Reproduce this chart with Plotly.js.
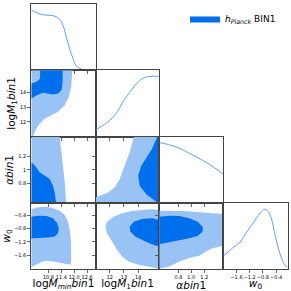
<!DOCTYPE html>
<html><head><meta charset="utf-8">
<script src="https://cdn.plot.ly/plotly-3.0.1.min.js"></script>
<style>html,body{margin:0;padding:0;background:#fff}#chart{width:291px;height:291px}</style>
</head><body><div id="chart"></div>
<script>
// ---- parameter names, ranges, ticks ----
const paramLabels = ["log<i>M</i><sub><i>min</i></sub><i>bin</i>1", "log<i>M</i><sub>1</sub><i>bin</i>1", "<i>αbin</i>1", "<i>w</i><sub>0</sub>"];
const paramRanges = [[10, 13], [11, 15.5], [0.5, 1.5], [-2.0, -0.05]];
const xTickVals = [[10.8, 11.4, 12.0, 12.6], [12, 13, 14], [0.8, 1.0, 1.2], [-1.6, -1.2, -0.8, -0.4]];
const xTickText = [["10.8", "11.4", "12.0", "12.6"], ["12", "13", "14"], ["0.8", "1.0", "1.2"], ["−1.6", "−1.2", "−0.8", "−0.4"]];
const yTickVals = [[], [12, 13, 14], [0.8, 1.0, 1.2], [-1.6, -1.2, -0.8, -0.4]];
const yTickText = [[], ["12", "13", "14"], ["0.8", "1", "1.2"], ["−1.6", "−1.2", "−0.8", "−0.4"]];
const legendName = "<i>h</i><sub><i>Planck</i></sub> BIN1";

// ---- 1D marginals ----
const logMminX = [10.0, 10.31, 10.62, 10.93, 11.16, 11.32, 11.47, 11.63, 11.78, 11.94, 12.09, 12.33, 12.64, 13.0];
const logMminP = [1.0, 0.946, 0.917, 0.912, 0.889, 0.846, 0.751, 0.557, 0.365, 0.199, 0.071, 0.022, 0.005, 0.0];
const logM1X = [11.0, 11.63, 12.34, 13.04, 13.74, 14.33, 14.8, 15.38, 15.5];
const logM1P = [0.112, 0.201, 0.352, 0.614, 0.837, 0.966, 0.998, 1.0, 1.0];
const alphaX = [0.5, 0.645, 0.8, 0.955, 1.11, 1.27, 1.5];
const alphaP = [1.0, 0.967, 0.912, 0.833, 0.745, 0.65, 0.483];
const w0X = [-2.0, -1.75, -1.49, -1.29, -1.04, -0.84, -0.74, -0.64, -0.53, -0.43, -0.33, -0.23, -0.13, -0.05];
const w0P = [0.214, 0.336, 0.449, 0.617, 0.814, 0.965, 1.0, 0.965, 0.814, 0.562, 0.336, 0.168, 0.057, 0.029];

// ---- 2D contours (95% light, 68% dark) ----
// logM1 vs logMmin
const m1Mmin95X = [10, 11.91, 11.86, 11.74, 11.56, 11.24, 10.93, 10.62, 10.39, 10.19, 10.08, 10];
const m1Mmin95Y = [15.5, 15.5, 14.38, 13.69, 13.12, 12.66, 12.44, 12.21, 11.87, 11.41, 11.0, 11.0];
const m1Mmin68X = [10.41, 10.41, 10.25, 10, 10, 10.25, 10.56, 11.02, 11.26, 11.42, 11.46, 11.46];
const m1Mmin68Y = [15.5, 14.95, 14.72, 14.61, 13.58, 13.81, 13.97, 13.86, 13.92, 14.2, 14.72, 15.5];
// alpha vs logMmin
const aMmin95X = [10, 11.32, 11.40, 11.48, 11.56, 11.63, 10];
const aMmin95Y = [1.5, 1.5, 1.27, 1.07, 0.81, 0.5, 0.5];
const aMmin68X = [10, 10.16, 10.39, 10.62, 10.86, 11.01, 11.09, 11.16, 10];
const aMmin68Y = [1.117, 1.067, 0.965, 0.915, 0.864, 0.764, 0.662, 0.5, 0.5];
// alpha vs logM1
const aM195X = [13.71, 13.41, 13.05, 12.70, 12.34, 11.87, 11.28, 11.0, 11.0, 15.5, 15.5];
const aM195Y = [1.5, 1.268, 1.067, 0.864, 0.738, 0.662, 0.612, 0.586, 0.5, 0.5, 1.5];
const aM168X = [15.36, 14.98, 14.63, 14.23, 14.01, 14.11, 14.58, 15.17, 15.41, 15.5, 15.5];
const aM168Y = [1.5, 1.314, 1.192, 1.067, 0.92, 0.764, 0.636, 0.536, 0.5, 0.5, 1.5];
// w0 vs logMmin
const wMmin95X = [10, 10.31, 10.70, 11.01, 11.32, 11.56, 11.71, 11.79, 11.84, 11.86, 11.86, 11.84, 11.63, 11.32, 11.01, 10.70, 10.47, 10.23, 10.08, 10];
const wMmin95Y = [-0.228, -0.169, -0.151, -0.198, -0.270, -0.397, -0.596, -0.842, -1.139, -1.436, -1.733, -1.881, -1.852, -1.813, -1.783, -1.763, -1.801, -1.881, -1.932, -1.95];
const wMmin68X = [10, 10.31, 10.70, 11.01, 11.21, 11.28, 11.24, 11.09, 10.78, 10.39, 10.08, 10];
const wMmin68Y = [-0.448, -0.418, -0.427, -0.495, -0.644, -0.792, -0.940, -1.041, -1.071, -1.071, -1.089, -1.110];
// w0 vs logM1
const wM195X = [15.5, 14.98, 14.28, 13.57, 12.86, 12.27, 11.80, 11.68, 11.80, 12.15, 12.51, 12.86, 13.33, 14.04, 14.75, 15.34, 15.5];
const wM195Y = [-0.249, -0.228, -0.249, -0.279, -0.347, -0.448, -0.596, -0.745, -0.940, -1.190, -1.436, -1.635, -1.783, -1.881, -1.932, -1.979, -2.0];
const wM168X = [15.5, 14.98, 14.28, 13.69, 13.41, 13.45, 13.80, 14.51, 15.10, 15.5];
const wM168Y = [-0.546, -0.495, -0.516, -0.596, -0.745, -0.893, -1.041, -1.190, -1.288, -1.338];
// w0 vs alpha
const wA95X = [0.5, 0.656, 0.866, 1.073, 1.281, 1.5, 1.5, 1.44, 1.33, 1.23, 1.125, 0.969, 0.8125, 0.656, 0.5625, 0.5];
const wA95Y = [-0.270, -0.270, -0.279, -0.308, -0.347, -0.368, -1.317, -1.338, -1.386, -1.486, -1.614, -1.682, -1.783, -1.932, -1.979, -2.0];
const wA68X = [0.5, 0.656, 0.8125, 0.969, 1.10, 1.178, 1.178, 1.10, 0.969, 0.8125, 0.656, 0.5];
const wA68Y = [-0.448, -0.418, -0.427, -0.495, -0.596, -0.745, -0.893, -1.021, -1.089, -1.139, -1.208, -1.267];

// ---- layout geometry (pixels) ----
const W = 291, H = 291;
const colEdges = [31.3, 95.7, 159.3, 223.3, 287.7];
const rowEdges = [4, 70.3, 136.5, 203.3, 268.8];
const DARK = '#006FED', LIGHT = '#99C3F5', LINE = '#5b9ff0', FRAME = '#444444';
const FONT = 'DejaVu Sans';

const panels = [
  {r: 0, c: 0, d1: [logMminX, logMminP]},
  {r: 1, c: 0, d2: [[m1Mmin95X, m1Mmin95Y], [m1Mmin68X, m1Mmin68Y]]},
  {r: 1, c: 1, d1: [logM1X, logM1P]},
  {r: 2, c: 0, d2: [[aMmin95X, aMmin95Y], [aMmin68X, aMmin68Y]]},
  {r: 2, c: 1, d2: [[aM195X, aM195Y], [aM168X, aM168Y]]},
  {r: 2, c: 2, d1: [alphaX, alphaP]},
  {r: 3, c: 0, d2: [[wMmin95X, wMmin95Y], [wMmin68X, wMmin68Y]]},
  {r: 3, c: 1, d2: [[wM195X, wM195Y], [wM168X, wM168Y]]},
  {r: 3, c: 2, d2: [[wA95X, wA95Y], [wA68X, wA68Y]]},
  {r: 3, c: 3, d1: [w0X, w0P]}
];

const traces = [];
const layout = {
  width: W, height: H, margin: {l: 0, r: 0, t: 0, b: 0},
  paper_bgcolor: '#fff', plot_bgcolor: '#fff',
  font: {family: FONT, color: '#000'},
  showlegend: true,
  legend: {x: 185 / W, y: 1 - 4 / H, xanchor: 'left', yanchor: 'top', bgcolor: 'rgba(0,0,0,0)',
           font: {size: 9, family: FONT}, itemwidth: 30, tracegroupgap: 0}
};

let legendDone = false;
panels.forEach((p, i) => {
  const k = i + 1;
  const xa = 'x' + (k === 1 ? '' : k), ya = 'y' + (k === 1 ? '' : k);
  const xName = 'xaxis' + (k === 1 ? '' : k), yName = 'yaxis' + (k === 1 ? '' : k);
  if (p.d1) {
    traces.push({type: 'scatter', mode: 'lines', x: p.d1[0], y: p.d1[1], xaxis: xa, yaxis: ya,
      line: {color: LINE, width: 1, shape: 'spline', smoothing: 1}, showlegend: false, hoverinfo: 'skip'});
  } else {
    traces.push({type: 'scatter', mode: 'lines', x: p.d2[0][0], y: p.d2[0][1], xaxis: xa, yaxis: ya,
      fill: 'toself', fillcolor: LIGHT, line: {width: 0, color: LIGHT}, showlegend: false, hoverinfo: 'skip'});
    traces.push({type: 'scatter', mode: 'lines', x: p.d2[1][0], y: p.d2[1][1], xaxis: xa, yaxis: ya,
      fill: 'toself', fillcolor: DARK, line: {width: 0, color: DARK}, name: legendName,
      showlegend: !legendDone, hoverinfo: 'skip'});
    legendDone = true;
  }
  const bottom = p.r === 3;
  const xax = {
    domain: [colEdges[p.c] / W, colEdges[p.c + 1] / W], range: paramRanges[p.c], anchor: ya,
    showline: true, mirror: true, linecolor: FRAME, linewidth: 1,
    ticks: 'outside', ticklen: 3, tickwidth: 0.8, tickcolor: FRAME,
    tickmode: 'array', tickvals: xTickVals[p.c], ticktext: xTickText[p.c], tickangle: 0,
    showticklabels: bottom, tickfont: {size: 5, family: FONT, color: '#000'},
    showgrid: false, zeroline: false, automargin: false
  };
  if (bottom) xax.title = {text: paramLabels[p.c], font: {size: 10.5, family: FONT, color: '#000'}, standoff: 4};
  layout[xName] = xax;
  const left = p.c === 0 && !p.d1;
  const yax = {
    domain: [1 - rowEdges[p.r + 1] / H, 1 - rowEdges[p.r] / H], anchor: xa,
    range: p.d1 ? [0, 1.1] : paramRanges[p.r],
    showline: true, mirror: true, linecolor: FRAME, linewidth: 1,
    ticks: p.d1 ? '' : 'outside', ticklen: 3, tickwidth: 0.8, tickcolor: FRAME,
    showgrid: false, zeroline: false, automargin: false,
    showticklabels: left, tickfont: {size: 5, family: FONT, color: '#000'}, tickangle: 0
  };
  if (p.d1) {
    yax.showticklabels = false;
    yax.tickmode = 'array'; yax.tickvals = [];
  } else {
    yax.tickmode = 'array'; yax.tickvals = yTickVals[p.r]; yax.ticktext = yTickText[p.r];
  }
  if (left) yax.title = {text: paramLabels[p.r], font: {size: 10.5, family: FONT, color: '#000'}, standoff: 2};
  layout[yName] = yax;
});

Plotly.newPlot('chart', traces, layout, {staticPlot: true, displayModeBar: false});
</script>
</body></html>
